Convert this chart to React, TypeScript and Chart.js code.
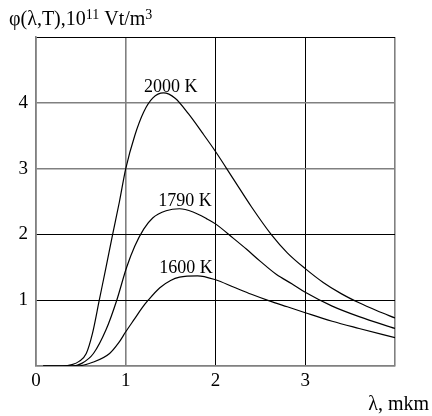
import React, { useEffect, useRef } from "react";
import { Chart, registerables } from "chart.js";

Chart.register(...registerables);

const X_TICKS = [0, 1, 2, 3];
const Y_TICKS = [1, 2, 3, 4];

const T2000_X = [0.08, 0.3, 0.4, 0.48, 0.56, 0.63, 0.705, 0.78, 0.854, 0.93, 1.0, 1.1, 1.2, 1.3, 1.42, 1.55, 1.7, 1.85, 2.0, 2.2, 2.4, 2.62, 2.8, 3.0, 3.2, 3.4, 3.6, 3.8, 4.0];
const T2000_Y = [0, 0, 0.02, 0.07, 0.19, 0.5, 1.0, 1.5, 2.0, 2.5, 3.0, 3.5, 3.86, 4.07, 4.15, 4.07, 3.83, 3.55, 3.26, 2.84, 2.42, 2.0, 1.72, 1.48, 1.27, 1.1, 0.96, 0.84, 0.73];

const T1790_X = [0.08, 0.4, 0.51, 0.64, 0.78, 0.9, 1.01, 1.1, 1.2, 1.3, 1.45, 1.6, 1.75, 1.9, 2.0, 2.2, 2.35, 2.5, 2.68, 2.85, 3.0, 3.3, 3.6, 4.0];
const T1790_Y = [0, 0, 0.04, 0.19, 0.55, 1.0, 1.5, 1.82, 2.08, 2.25, 2.36, 2.39, 2.34, 2.24, 2.16, 1.94, 1.77, 1.59, 1.39, 1.25, 1.12, 0.91, 0.75, 0.57];

const T1600_X = [0.08, 0.45, 0.64, 0.82, 0.92, 1.0, 1.1, 1.18, 1.25, 1.38, 1.5, 1.6, 1.8, 2.0, 2.2, 2.4, 2.6, 2.8, 3.0, 3.3, 3.6, 4.0];
const T1600_Y = [0, 0, 0.06, 0.19, 0.35, 0.52, 0.72, 0.88, 1.0, 1.19, 1.3, 1.35, 1.37, 1.31, 1.2, 1.09, 0.99, 0.9, 0.81, 0.68, 0.57, 0.43];

const CURVE_LABELS = ["2000 K", "1790 K", "1600 K"];
const LABEL_X = [1.5, 1.66, 1.67];
const LABEL_Y = [4.23, 2.51, 1.49];

const Y_TITLE_PARTS = [
  { t: "φ(λ,T),10", sup: false },
  { t: "11", sup: true },
  { t: " Vt/m", sup: false },
  { t: "3", sup: true },
];
const X_TITLE = "λ, mkm";

const FONT = "'Liberation Serif', 'Times New Roman', serif";
const GRAY = "#808080";
const BLACK = "#000000";

function pts(xs: number[], ys: number[]) {
  return xs.map((x, i) => ({ x, y: ys[i] }));
}

const textPlugin = {
  id: "texts",
  afterDraw(chart: any) {
    const ctx = chart.ctx;
    const xs = chart.scales.x;
    const ys = chart.scales.y;
    ctx.save();
    ctx.fillStyle = "#000";
    ctx.font = `18px ${FONT}`;
    ctx.textAlign = "center";
    ctx.textBaseline = "middle";
    CURVE_LABELS.forEach((t, i) => {
      ctx.fillText(t, xs.getPixelForValue(LABEL_X[i]), ys.getPixelForValue(LABEL_Y[i]));
    });
    ctx.textAlign = "left";
    ctx.textBaseline = "alphabetic";
    let x = 9;
    Y_TITLE_PARTS.forEach((p) => {
      ctx.font = p.sup ? `14px ${FONT}` : `20px ${FONT}`;
      ctx.fillText(p.t, x, p.sup ? 19 : 25);
      x += ctx.measureText(p.t).width;
    });
    ctx.font = `20px ${FONT}`;
    ctx.textAlign = "right";
    ctx.fillText(X_TITLE, 429, 410);
    ctx.restore();
  },
};

export default function App() {
  const ref = useRef<HTMLCanvasElement | null>(null);
  useEffect(() => {
    document.body.style.margin = "0";
    const lineDs = (label: string, data: any) => ({
      label,
      data,
      borderColor: BLACK,
      borderWidth: 1.2,
      pointRadius: 0,
      fill: false,
      cubicInterpolationMode: "monotone" as const,
    });
    const chart = new Chart(ref.current!, {
      type: "line",
      data: {
        datasets: [
          lineDs(CURVE_LABELS[0], pts(T2000_X, T2000_Y)),
          lineDs(CURVE_LABELS[1], pts(T1790_X, T1790_Y)),
          lineDs(CURVE_LABELS[2], pts(T1600_X, T1600_Y)),
        ],
      },
      options: {
        animation: false,
        responsive: false,
        maintainAspectRatio: false,
        layout: { padding: { top: 37, right: 37, left: 0, bottom: 0 } },
        plugins: { legend: { display: false }, tooltip: { enabled: false } },
        scales: {
          x: {
            type: "linear",
            min: 0,
            max: 4,
            afterBuildTicks: (s: any) => {
              s.ticks = [...X_TICKS, 4].map((v) => ({ value: v }));
            },
            afterFit: (s: any) => {
              s.height = 50;
            },
            ticks: {
              color: "#000",
              font: { family: FONT, size: 19 },
              padding: 4,
              maxRotation: 0,
              callback: (v: any) => (X_TICKS.includes(v) ? String(v) : ""),
            },
            grid: {
              drawTicks: false,
              color: (c: any) => (c.tick && (c.tick.value === 2 || c.tick.value === 3) ? BLACK : GRAY),
              lineWidth: (c: any) => (c.tick && (c.tick.value === 2 || c.tick.value === 3) ? 1 : 1.6),
            },
            border: { color: GRAY, width: 1.6 },
          },
          y: {
            type: "linear",
            min: 0,
            max: 5,
            afterBuildTicks: (s: any) => {
              s.ticks = [0, ...Y_TICKS, 5].map((v) => ({ value: v }));
            },
            afterFit: (s: any) => {
              s.width = 36;
            },
            ticks: {
              color: "#000",
              font: { family: FONT, size: 19 },
              padding: 8,
              callback: (v: any) => (Y_TICKS.includes(v) ? String(v) : ""),
            },
            grid: {
              drawTicks: false,
              color: (c: any) => (c.tick && (c.tick.value === 1 || c.tick.value === 2 || c.tick.value === 5) ? BLACK : GRAY),
              lineWidth: (c: any) => (c.tick && (c.tick.value === 1 || c.tick.value === 2 || c.tick.value === 5) ? 1 : 1.6),
            },
            border: { color: GRAY, width: 1.6 },
          },
        },
      },
      plugins: [textPlugin],
    });
    return () => chart.destroy();
  }, []);
  return (
    <div style={{ width: 432, height: 416, background: "#fff" }}>
      <canvas ref={ref} width={432} height={416} style={{ display: "block" }} />
    </div>
  );
}
